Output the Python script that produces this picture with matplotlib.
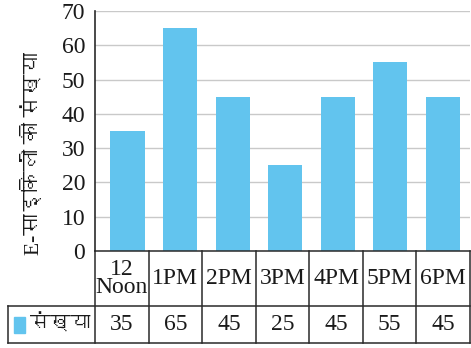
import matplotlib
matplotlib.use('Agg')
import matplotlib.pyplot as plt
from matplotlib import font_manager
from matplotlib.ft2font import FT2Font
from matplotlib.patches import Rectangle

times = ['12\nNoon', '1PM', '2PM', '3PM', '4PM', '5PM', '6PM']
counts = [35, 65, 45, 25, 45, 55, 45]
series_name = 'संख्या'
y_label = 'E-साइकिलों की संख्या'
y_ticks = [0, 10, 20, 30, 40, 50, 60, 70]

bar_color = '#62C4EE'
grid_color = '#C9C9C9'
line_color = '#2A2A2A'
text_color = '#1A1A1A'


def find_font(ch):
    # look for any installed font that has a Devanagari glyph
    for f in font_manager.fontManager.ttflist:
        try:
            if ord(ch) in FT2Font(f.fname).get_charmap():
                return f.name
        except Exception:
            pass
    return 'DejaVu Sans'


deva = find_font('क')
fam = ['Liberation Serif', deva]

fig = plt.figure(figsize=(4.71, 3.48), dpi=100)
W, H = 471.0, 348.0

# bar area
ax = fig.add_axes([95 / W, (H - 251) / H, 375 / W, 240 / H])
x = range(len(counts))
ax.bar(x, counts, width=0.65, color=bar_color, zorder=3)
ax.set_xlim(-0.62, 6.52)
ax.set_ylim(0, 70)
ax.set_yticks(y_ticks)
ax.set_yticklabels([str(t) for t in y_ticks], fontfamily=fam, fontsize=17,
                   color=text_color)
ax.set_xticks([])
ax.tick_params(axis='y', length=0, pad=7)
ax.grid(axis='y', color=grid_color, linewidth=1.0, zorder=0)
for s in ['top', 'right', 'bottom']:
    ax.spines[s].set_visible(False)
ax.spines['left'].set_color(line_color)
ax.spines['left'].set_linewidth(1.2)

fig.text(33 / W, (H - 153) / H, y_label, rotation=90, ha='center', va='center',
         fontsize=15.5, family=fam, color=text_color)

# data table under the bars
tax = fig.add_axes([95 / W, (H - 343) / H, 375 / W, 92 / H])
tax.set_xlim(0, 7)
tax.set_ylim(0, 1)
tax.axis('off')
mid = 0.4
lab_left = -(95 - 8) / (375 / 7.0)
kw = dict(color=line_color, linewidth=1.1, clip_on=False)
tax.plot([0, 7], [1, 1], **kw)
tax.plot([lab_left, 7], [mid, mid], **kw)
tax.plot([lab_left, 7], [0, 0], **kw)
tax.plot([lab_left, lab_left], [0, mid], **kw)
for i in range(len(times) + 1):
    tax.plot([i, i], [0, 1], **kw)
for i, (t, c) in enumerate(zip(times, counts)):
    tax.text(i + 0.5, (1 + mid) / 2, t, ha='center', va='center', fontsize=17,
             family=fam, linespacing=0.8, color=text_color)
    tax.text(i + 0.5, mid / 2, str(c), ha='center', va='center', fontsize=17,
             family=fam, color=text_color)

tax.add_patch(Rectangle((lab_left + 0.11, mid * 0.28), 0.21, mid * 0.44,
                        color=bar_color, clip_on=False))
tax.text(lab_left + 0.42, mid / 2, series_name, ha='left', va='center',
         fontsize=14.5, family=fam, color=text_color)

fig.savefig('out.png', dpi=100)
